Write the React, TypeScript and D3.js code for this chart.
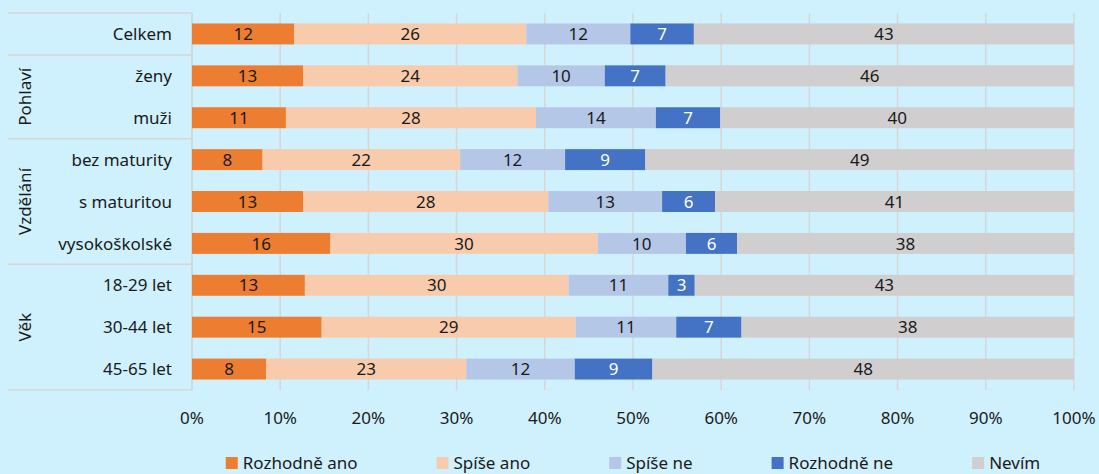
import { useMemo } from 'react'
import * as d3 from 'd3'

const W = 1099
const H = 474
const FONT = "'Noto Sans', sans-serif"
const BG = '#cff1fd'
const LINE = '#d6d6d6'

const categories = ['Celkem', 'ženy', 'muži', 'bez maturity', 's maturitou', 'vysokoškolské', '18-29 let', '30-44 let', '45-65 let']
const seriesNames = ['Rozhodně ano', 'Spíše ano', 'Spíše ne', 'Rozhodně ne', 'Nevím']
const seriesColors = ['#ed7d31', '#f8cbad', '#b4c7e7', '#4472c4', '#d0cece']
// shares in % (labels show them rounded)
const rozhodneAno = [11.6, 12.6, 10.65, 8.0, 12.6, 15.7, 12.8, 14.7, 8.4]
const spiseAno = [26.3, 24.3, 28.35, 22.4, 27.8, 30.3, 29.9, 28.8, 22.7]
const spiseNe = [11.8, 9.9, 13.6, 11.9, 12.9, 10.0, 11.3, 11.4, 12.3]
const rozhodneNe = [7.2, 6.9, 7.3, 9.1, 6.0, 5.8, 3.0, 7.4, 8.8]
const nevim = [43.1, 46.3, 40.1, 48.6, 40.7, 38.2, 43.0, 37.7, 47.8]
const xTicks = [0, 0.1, 0.2, 0.3, 0.4, 0.5, 0.6, 0.7, 0.8, 0.9, 1]

// category groups: [label, first row, last row]
const groups: [string, number, number][] = [
  ['', 0, 0],
  ['Pohlaví', 1, 2],
  ['Vzdělání', 3, 5],
  ['Věk', 6, 8],
]

const M = { top: 13, bottom: 390, left: 192, right: 1074 }

function textWidth(s: string, size: number) {
  const c = document.createElement('canvas').getContext('2d')!
  c.font = `${size}px ${FONT}`
  return c.measureText(s).width
}

export default function App() {
  const raw: Record<string, number[]> = {
    [seriesNames[0]]: rozhodneAno,
    [seriesNames[1]]: spiseAno,
    [seriesNames[2]]: spiseNe,
    [seriesNames[3]]: rozhodneNe,
    [seriesNames[4]]: nevim,
  }
  const rows = categories.map((c, i) => {
    const r: any = { cat: c }
    seriesNames.forEach(n => { r[n] = raw[n][i] })
    return r
  })

  const stack = d3.stack<any>().keys(seriesNames).offset(d3.stackOffsetExpand)(rows)

  const x = d3.scaleLinear().domain([0, 1]).range([M.left, M.right])
  const y = d3.scaleBand().domain(categories).range([M.top, M.bottom]).paddingInner(0.5).paddingOuter(0.25)
  const step = y.step()
  const rowEdge = (k: number) => M.top + k * step

  // legend layout, centered under plot
  const legend = useMemo(() => {
    const sq = 12, gapText = 5, gapItem = 79
    const widths = seriesNames.map(n => sq + gapText + textWidth(n, 17))
    const total = d3.sum(widths) + gapItem * (seriesNames.length - 1)
    let cx = (M.left + M.right) / 2 - total / 2
    return seriesNames.map((n, i) => {
      const pos = cx
      cx += widths[i] + gapItem
      return { name: n, x: pos, color: seriesColors[i] }
    })
  }, [])

  return (
    <svg width={W} height={H} style={{ position: 'fixed', left: 0, top: 0, display: 'block' }} fontFamily={FONT}>
      <rect width={W} height={H} fill={BG} />

      {/* gridlines */}
      {xTicks.map(t => (
        <line key={t} x1={x(t)} x2={x(t)} y1={M.top} y2={M.bottom} stroke={LINE} strokeWidth={1.5} />
      ))}

      {/* category table lines */}
      <line x1={M.left} x2={M.left} y1={M.top} y2={M.bottom} stroke={LINE} strokeWidth={1.5} />
      {[0, ...groups.map(g => g[2] + 1)].map(k => (
        <line key={k} x1={8} x2={M.left} y1={rowEdge(k)} y2={rowEdge(k)} stroke={LINE} strokeWidth={1.5} />
      ))}

      {/* bars */}
      {stack.map((s, si) => (
        <g key={s.key}>
          {s.map((d, i) => {
            const x0 = x(d[0]), x1 = x(d[1])
            const yy = y(categories[i])!
            return (
              <g key={i}>
                <rect x={x0} y={yy} width={x1 - x0} height={y.bandwidth()} fill={seriesColors[si]} />
                <text
                  x={(x0 + x1) / 2}
                  y={yy + y.bandwidth() / 2}
                  dy="0.36em"
                  textAnchor="middle"
                  fontSize={17}
                  fill={si === 3 ? '#ffffff' : '#1a1a1a'}
                >
                  {Math.round(raw[s.key][i])}
                </text>
              </g>
            )
          })}
        </g>
      ))}

      {/* category labels */}
      {categories.map(c => (
        <text key={c} x={M.left - 20} y={y(c)! + y.bandwidth() / 2} dy="0.36em" textAnchor="end" fontSize={17} fill="#1a1a1a">
          {c}
        </text>
      ))}

      {/* group labels */}
      {groups.filter(g => g[0]).map(g => {
        const cy = (rowEdge(g[1]) + rowEdge(g[2] + 1)) / 2
        return (
          <text key={g[0]} transform={`translate(25,${cy}) rotate(-90)`} dy="0.36em" textAnchor="middle" fontSize={17} fill="#1a1a1a">
            {g[0]}
          </text>
        )
      })}

      {/* x tick labels */}
      {xTicks.map(t => (
        <text key={t} x={x(t)} y={418} dy="0.36em" textAnchor="middle" fontSize={17} fill="#1a1a1a">
          {d3.format('.0%')(t)}
        </text>
      ))}

      {/* legend */}
      {legend.map(l => (
        <g key={l.name} transform={`translate(${l.x},457)`}>
          <rect width={12} height={12} fill={l.color} />
          <text x={17} y={6} dy="0.36em" fontSize={17} fill="#1a1a1a">{l.name}</text>
        </g>
      ))}
    </svg>
  )
}
